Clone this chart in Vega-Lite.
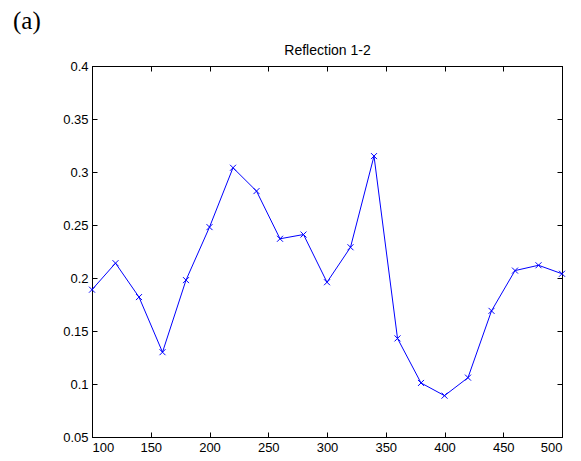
{
  "$schema": "https://vega.github.io/schema/vega-lite/v6.json",
  "autosize": {"type": "none"},
  "padding": {"left": 92, "top": 66, "right": 19, "bottom": 24},
  "width": 470,
  "height": 371,
  "background": "white",
  "title": {"text": "(a)", "anchor": "start", "frame": "group", "dx": -79, "font": "Liberation Serif", "fontSize": 25, "fontWeight": "normal", "color": "black", "offset": 10},
  "config": {
    "view": {"stroke": "black", "strokeWidth": 1},
    "axis": {"grid": false, "domainColor": "black", "tickColor": "black", "labelColor": "black", "labelFont": "Liberation Sans", "labelFontSize": 13, "tickSize": -5, "titleFont": "Liberation Sans", "titleFontWeight": "normal", "titleColor": "black"}
  },
  "data": {"values": [
    {"wavelength": 100, "value": 0.189},
    {"wavelength": 120, "value": 0.214},
    {"wavelength": 140, "value": 0.182},
    {"wavelength": 160, "value": 0.130},
    {"wavelength": 180, "value": 0.198},
    {"wavelength": 200, "value": 0.248},
    {"wavelength": 220, "value": 0.304},
    {"wavelength": 240, "value": 0.282},
    {"wavelength": 260, "value": 0.237},
    {"wavelength": 280, "value": 0.241},
    {"wavelength": 300, "value": 0.196},
    {"wavelength": 320, "value": 0.229},
    {"wavelength": 340, "value": 0.315},
    {"wavelength": 360, "value": 0.143},
    {"wavelength": 380, "value": 0.101},
    {"wavelength": 400, "value": 0.089},
    {"wavelength": 420, "value": 0.106},
    {"wavelength": 440, "value": 0.169},
    {"wavelength": 460, "value": 0.207},
    {"wavelength": 480, "value": 0.212},
    {"wavelength": 500, "value": 0.204}
  ]},
  "layer": [
    {
      "mark": {"type": "line", "color": "#0000ff", "strokeWidth": 1},
      "encoding": {
        "x": {"field": "wavelength", "type": "quantitative", "scale": {"domain": [100, 500], "nice": false}, "axis": {"title": null, "values": [100, 150, 200, 250, 300, 350, 400, 450, 500], "labelPadding": 9}},
        "y": {"field": "value", "type": "quantitative", "scale": {"domain": [0.05, 0.4], "nice": false, "zero": false}, "axis": {"title": null, "values": [0.05, 0.1, 0.15, 0.2, 0.25, 0.3, 0.35, 0.4], "format": "~g", "labelPadding": 9}}
      }
    },
    {
      "mark": {"type": "point", "shape": "M-1,-1L1,1M-1,1L1,-1", "filled": false, "color": "#0000ff", "size": 36, "strokeWidth": 1, "opacity": 1},
      "encoding": {
        "x": {"field": "wavelength", "type": "quantitative", "scale": {"domain": [100, 500], "nice": false}, "axis": {"orient": "top", "title": "Reflection 1-2", "titleFontSize": 14, "titlePadding": 8, "labels": false, "values": [100, 150, 200, 250, 300, 350, 400, 450, 500]}},
        "y": {"field": "value", "type": "quantitative", "scale": {"domain": [0.05, 0.4], "nice": false, "zero": false}, "axis": {"orient": "right", "title": null, "labels": false, "values": [0.05, 0.1, 0.15, 0.2, 0.25, 0.3, 0.35, 0.4]}}
      }
    }
  ],
  "resolve": {"axis": {"x": "independent", "y": "independent"}}
}
